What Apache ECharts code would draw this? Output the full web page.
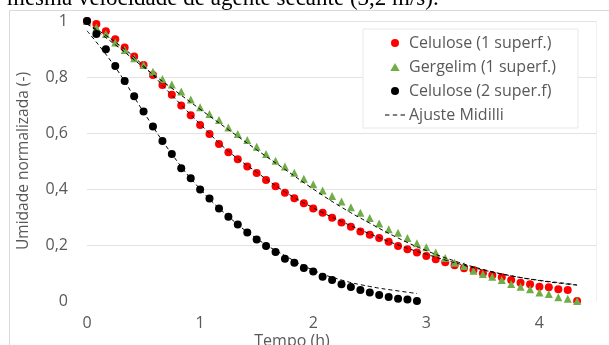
<!DOCTYPE html>
<html><head><meta charset="utf-8">
<script src="https://cdn.jsdelivr.net/npm/echarts@6/dist/echarts.min.js"></script>
<style>html,body{margin:0;padding:0;background:#fff}#c{width:609px;height:345px}</style>
</head><body><div id="c"></div><script>
// Time (h), 5-minute steps
const tempo = [0, 0.083, 0.167, 0.25, 0.333, 0.417, 0.5, 0.583, 0.667, 0.75, 0.833, 0.917, 1, 1.083, 1.167, 1.25, 1.333, 1.417, 1.5, 1.583, 1.667, 1.75, 1.833, 1.917, 2, 2.083, 2.167, 2.25, 2.333, 2.417, 2.5, 2.583, 2.667, 2.75, 2.833, 2.917, 3, 3.083, 3.167, 3.25, 3.333, 3.417, 3.5, 3.583, 3.667, 3.75, 3.833, 3.917, 4, 4.083, 4.167, 4.25, 4.333];
const celulose1 = [1.0, 0.989, 0.963, 0.935, 0.905, 0.873, 0.843, 0.807, 0.771, 0.737, 0.698, 0.663, 0.629, 0.596, 0.561, 0.531, 0.506, 0.480, 0.457, 0.432, 0.410, 0.387, 0.367, 0.349, 0.330, 0.315, 0.297, 0.280, 0.265, 0.248, 0.237, 0.225, 0.212, 0.196, 0.185, 0.173, 0.161, 0.149, 0.138, 0.128, 0.117, 0.111, 0.099, 0.092, 0.085, 0.075, 0.065, 0.060, 0.051, 0.049, 0.042, 0.039, 0.0];
const gergelim1 = [1.0, 0.977, 0.954, 0.923, 0.896, 0.867, 0.843, 0.819, 0.793, 0.773, 0.748, 0.720, 0.692, 0.668, 0.646, 0.620, 0.596, 0.575, 0.551, 0.525, 0.501, 0.480, 0.458, 0.437, 0.417, 0.395, 0.375, 0.355, 0.335, 0.315, 0.296, 0.277, 0.256, 0.244, 0.225, 0.206, 0.192, 0.173, 0.154, 0.137, 0.125, 0.108, 0.096, 0.087, 0.075, 0.061, 0.051, 0.042, 0.030, 0.025, 0.013, 0.008, 0.0];
const celulose2 = [1.0, 0.954, 0.899, 0.839, 0.786, 0.731, 0.677, 0.623, 0.571, 0.525, 0.474, 0.438, 0.398, 0.366, 0.330, 0.301, 0.273, 0.245, 0.220, 0.196, 0.175, 0.151, 0.137, 0.118, 0.105, 0.087, 0.075, 0.060, 0.050, 0.039, 0.030, 0.021, 0.014, 0.008, 0.005, 0.0];
// Midilli fit curves
const fitTempo1 = [0, 0.25, 0.5, 0.75, 1, 1.25, 1.5, 1.75, 2, 2.25, 2.5, 2.75, 3, 3.25, 3.5, 3.75, 4, 4.25, 4.333];
const fitCelulose1 = [0.99, 0.925, 0.84, 0.735, 0.632, 0.535, 0.46, 0.39, 0.333, 0.284, 0.24, 0.2, 0.167, 0.137, 0.111, 0.09, 0.074, 0.062, 0.057];
const fitGergelim1 = [0.99, 0.915, 0.835, 0.76, 0.685, 0.612, 0.54, 0.47, 0.40, 0.335, 0.278, 0.225, 0.18, 0.143, 0.113, 0.09, 0.073, 0.06, 0.057];
const fitTempo2 = [0, 0.25, 0.5, 0.75, 1, 1.25, 1.5, 1.75, 2, 2.25, 2.5, 2.75, 2.917];
const fitCelulose2 = [0.965, 0.835, 0.675, 0.525, 0.40, 0.302, 0.223, 0.162, 0.11, 0.075, 0.052, 0.036, 0.027];
const yTicks = ['0', '0,2', '0,4', '0,6', '0,8', '1'];
const xTicks = ['0', '1', '2', '3', '4'];

const FONT = 'Open Sans';
const GRAY = '#595959';
const pairs = (xs, ys) => ys.map((v, i) => [xs[i], v]);
const chart = echarts.init(document.getElementById('c'), null, {renderer: 'canvas'});
const fitStyle = {color: '#000', width: 1, type: [4, 3]};
const fitSeries = (data) => ({
  name: 'Ajuste Midilli', type: 'line', data, smooth: true, symbol: 'none', showSymbol: false,
  lineStyle: fitStyle, itemStyle: {color: '#000'}, z: 5, silent: true
});
const TRI = 'path://M5,0 L10,8.5 L0,8.5 Z';
const DASHES = 'path://M0,0 L4,0 L4,1 L0,1 Z M7,0 L11,0 L11,1 L7,1 Z M14,0 L18,0 L18,1 L14,1 Z';
chart.setOption({
  animation: false,
  backgroundColor: '#fff',
  textStyle: {fontFamily: FONT},
  grid: {left: 87, right: 13, top: 21, bottom: 44},
  xAxis: {
    type: 'value', min: 0, max: 4.5, interval: 1,
    axisLine: {show: false}, axisTick: {show: false}, splitLine: {show: false},
    axisLabel: {color: GRAY, fontSize: 16, fontFamily: FONT, margin: 14, showMaxLabel: false,
      formatter: v => (Number.isInteger(Math.round(v * 1000) / 1000) && v <= 4) ? xTicks[Math.round(v)] : ''}
  },
  yAxis: [{
    type: 'value', min: 0, max: 1, interval: 0.2,
    axisLine: {show: false}, axisTick: {show: false},
    splitLine: {lineStyle: {color: ['rgba(0,0,0,0)', '#e3e3e3', '#e3e3e3', '#e3e3e3', '#e3e3e3', '#e3e3e3'], width: 1}},
    axisLabel: {color: GRAY, fontSize: 16, fontFamily: FONT, margin: 19,
      formatter: v => yTicks[Math.round(v * 5)]},
    name: 'Umidade normalizada (-)', nameLocation: 'middle', nameGap: 55, nameRotate: 90,
    nameTextStyle: {color: GRAY, fontSize: 15.5, fontFamily: FONT}
  }, {
    type: 'value', min: 0, max: 1, interval: 0.2, position: 'right',
    axisLine: {show: true, lineStyle: {color: '#efefef'}}, axisTick: {show: false},
    axisLabel: {show: false}, splitLine: {show: false}
  }],
  legend: {
    orient: 'vertical', left: 363, top: 29, padding: [6, 22, 5, 22], itemGap: 8,
    itemWidth: 20, itemHeight: 8, backgroundColor: '#fff', borderColor: '#e8e8e8', borderWidth: 1,
    symbolKeepAspect: true,
    textStyle: {color: GRAY, fontSize: 16, fontFamily: FONT, padding: [0, 0, 0, -1]},
    data: [
      {name: 'Celulose (1 superf.)'},
      {name: 'Gergelim (1 superf.)', icon: TRI},
      {name: 'Celulose (2 super.f)'},
      {name: 'Ajuste Midilli', icon: DASHES, itemStyle: {color: '#000'}}
    ]
  },
  graphic: [
    {type: 'rect', silent: true, z: -10, shape: {x: 9.5, y: 10.5, width: 700, height: 400},
      style: {fill: 'none', stroke: '#d9d9d9', lineWidth: 1}},
    {type: 'text', silent: true, x: 7, y: 10,
      style: {text: 'mesma velocidade de agente secante (3,2 m/s).', fontSize: 23, fontFamily: 'Liberation Serif', fill: '#000', textAlign: 'left', textVerticalAlign: 'bottom'}},
    {type: 'text', silent: true, x: 292, y: 333,
      style: {text: 'Tempo (h)', fontSize: 16, fontFamily: FONT, fill: GRAY, textAlign: 'center', textVerticalAlign: 'top'}}
  ],
  series: [
    {name: 'Celulose (1 superf.)', type: 'scatter', data: pairs(tempo, celulose1), symbol: 'circle', symbolSize: 8, itemStyle: {color: '#ff0000', opacity: 1}, z: 2},
    {name: 'Gergelim (1 superf.)', type: 'scatter', data: pairs(tempo, gergelim1), symbol: 'triangle', symbolSize: 8, itemStyle: {color: '#70ad47', opacity: 1}, z: 3},
    {name: 'Celulose (2 super.f)', type: 'scatter', data: pairs(tempo, celulose2), symbol: 'circle', symbolSize: 8, itemStyle: {color: '#000000', opacity: 1}, z: 4},
    fitSeries(pairs(fitTempo1, fitCelulose1)),
    fitSeries(pairs(fitTempo1, fitGergelim1)),
    fitSeries(pairs(fitTempo2, fitCelulose2))
  ]
});
</script></body></html>
